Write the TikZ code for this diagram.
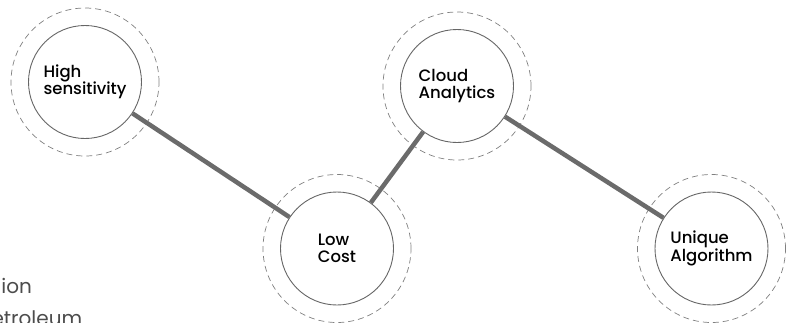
\documentclass[tikz,border=0pt]{standalone}
\usepackage{fontspec}
\setmainfont{Poppins}[UprightFont=* Medium]
\newfontfamily\notefont{Poppins}
\usetikzlibrary{positioning}

\begin{document}
\begin{tikzpicture}[x=1pt, y=-1pt, line width=1pt, font=\fontsize{16.5}{17.5}\selectfont]
			\tikzstyle{feature}=[circle,draw=black!60,line width=0.9pt,fill=white,minimum size=113pt,inner sep=0pt,align=left]
			\tikzstyle{ring}=[draw=black!50,line width=0.7pt,dash pattern=on 6pt off 4pt]
			\tikzstyle{link}=[draw=black!58,line width=4.5pt]
			\tikzstyle{note}=[anchor=base west,inner sep=0pt,text=black!70,font=\notefont\fontsize{20}{22}\selectfont]
			
			\useasboundingbox (0,0) rectangle (796,322);
			
			% cut off caption at bottom left
			\node[note] (tion) at (1,293) {ion};
			\node[note] (petro) at (-9,325) {etroleum};
			
			\node[feature] (hs) at (85,82) {High\\sensitivity};
			\node[feature] (lc) at (337,248.5) {Low\\Cost};
			\node[feature] (ca) at (457,86) {Cloud\\Analytics};
			\node[feature] (ua) at (711.5,248.5) {Unique\\Algorithm};
			
			\foreach \n in {hs,lc,ca,ua}
				\draw[ring] (\n.center) circle[radius=74pt];
			
			\path[link] (hs) -- (lc);
			\path[link] (lc) -- (ca);
			\path[link] (ca) -- (ua);
			\end{tikzpicture}
\end{document}
